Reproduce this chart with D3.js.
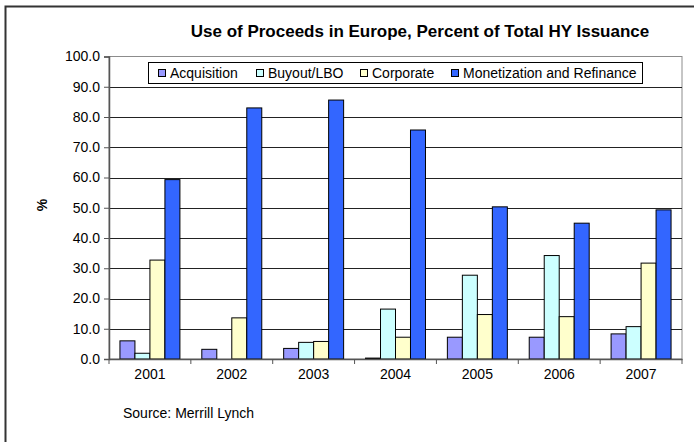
<!DOCTYPE html>
<html>
<head>
<meta charset="utf-8">
<script src="https://cdn.jsdelivr.net/npm/d3@7"></script>
<style>
  body { margin: 0; background: #fff; }
  svg { display: block; font-family: Arial, "Liberation Sans", sans-serif; }
</style>
</head>
<body>
<div id="sketchpad"></div>
<script>
let years = ["2001", "2002", "2003", "2004", "2005", "2006", "2007"]
let seriesNames = ["Acquisition", "Buyout/LBO", "Corporate", "Monetization and Refinance"]
let acquisition = [6.0, 3.2, 3.5, 0.3, 7.2, 7.2, 8.3]
let buyout = [1.9, 0, 5.5, 16.5, 27.7, 34.2, 10.7]
let corporate = [32.7, 13.6, 5.8, 7.2, 14.7, 14.0, 31.7]
let monetization = [59.3, 83.0, 85.6, 75.7, 50.3, 44.9, 49.3]
let yTicks = [0, 10, 20, 30, 40, 50, 60, 70, 80, 90, 100]

let seriesValues = [acquisition, buyout, corporate, monetization]
let colors = ["#9999ff", "#ccffff", "#ffffcc", "#3366ff"]

let svg = d3.select("#sketchpad")
  .append("svg")
  .attr("width", 694)
  .attr("height", 442)

// outer frame (runs off the right and bottom edge)
svg.append("rect")
  .attr("x", 5.5).attr("y", 6.5)
  .attr("width", 700).attr("height", 450)
  .attr("fill", "#fff")
  .attr("stroke", "#333")
  .attr("stroke-width", 2)

let plotLeft = 109, plotRight = 682, plotTop = 56.5, plotBottom = 359

let x0 = d3.scaleBand().domain(years).range([plotLeft, plotRight])
let x1 = d3.scaleBand().domain(seriesNames).range([0, x0.bandwidth()]).paddingOuter(0.73)
let y = d3.scaleLinear().domain([0, 100]).range([plotBottom, plotTop])

// plot area border
svg.append("rect")
  .attr("x", plotLeft).attr("y", plotTop)
  .attr("width", plotRight - plotLeft).attr("height", plotBottom - plotTop)
  .attr("fill", "#fff")
  .attr("stroke", "#8c8c8c")
  .attr("stroke-width", 1)

// gridlines
svg.append("g")
  .selectAll("line")
  .data(yTicks.slice(1, -1))
  .join("line")
  .attr("x1", plotLeft).attr("x2", plotRight)
  .attr("y1", d => Math.round(y(d)) + 0.5)
  .attr("y2", d => Math.round(y(d)) + 0.5)
  .attr("stroke", "#222")
  .attr("stroke-width", 1)

// bars
let rows = years.map((yr, i) => seriesNames.map((s, j) => ({ year: yr, name: s, value: seriesValues[j][i], color: colors[j] })))
svg.append("g")
  .selectAll("g")
  .data(rows)
  .join("g")
  .attr("transform", d => `translate(${x0(d[0].year)},0)`)
  .selectAll("rect")
  .data(d => d)
  .join("rect")
  .attr("x", d => x1(d.name))
  .attr("y", d => y(d.value))
  .attr("width", x1.bandwidth())
  .attr("height", d => plotBottom - y(d.value))
  .attr("fill", d => d.color)
  .attr("stroke", "#000")
  .attr("stroke-width", 1)

// y axis
let yAxis = svg.append("g")
  .attr("transform", `translate(${plotLeft},0)`)
  .call(d3.axisLeft(y).tickValues(yTicks).tickFormat(d3.format(".1f")).tickSize(5).tickPadding(4))
yAxis.select(".domain").attr("stroke", "#555").attr("stroke-width", 1.5)
yAxis.selectAll(".tick line").attr("stroke", "#555")
yAxis.selectAll("text").attr("font-size", 14).attr("fill", "#000").attr("font-family", "Arial, 'Liberation Sans', sans-serif")

// x axis
let xAxis = svg.append("g")
  .attr("transform", `translate(0,${plotBottom})`)
  .call(d3.axisBottom(x0).tickSize(0).tickPadding(10))
xAxis.select(".domain").attr("stroke", "#555").attr("stroke-width", 1.5)
xAxis.selectAll("text").attr("font-size", 14).attr("fill", "#000").attr("font-family", "Arial, 'Liberation Sans', sans-serif")

// category boundary ticks
svg.append("g")
  .selectAll("line")
  .data(years.concat(["end"]))
  .join("line")
  .attr("x1", (d, i) => i < years.length ? x0(d) : plotRight)
  .attr("x2", (d, i) => i < years.length ? x0(d) : plotRight)
  .attr("y1", plotBottom).attr("y2", plotBottom + 5)
  .attr("stroke", "#555")

// title
svg.append("text")
  .attr("x", 420).attr("y", 37)
  .attr("text-anchor", "middle")
  .attr("font-size", 17)
  .attr("font-weight", "bold")
  .text("Use of Proceeds in Europe, Percent of Total HY Issuance")

// y axis title
svg.append("text")
  .attr("transform", "translate(47,205) rotate(-90)")
  .attr("text-anchor", "middle")
  .attr("font-size", 14)
  .attr("font-weight", "bold")
  .text("%")

// legend
let legend = svg.append("g")
legend.append("rect")
  .attr("x", 148.5).attr("y", 62.5)
  .attr("width", 494).attr("height", 21)
  .attr("fill", "#fff")
  .attr("stroke", "#000")
let legendX = [158, 256, 360, 451]
let item = legend.selectAll("g.item")
  .data(seriesNames)
  .join("g")
  .attr("class", "item")
  .attr("transform", (d, i) => `translate(${legendX[i]},73)`)
item.append("rect")
  .attr("x", 0.5).attr("y", -3.5)
  .attr("width", 7).attr("height", 7)
  .attr("fill", (d, i) => colors[i])
  .attr("stroke", "#000")
item.append("text")
  .attr("x", 12).attr("y", 5)
  .attr("font-size", 14)
  .text(d => d)

// source
svg.append("text")
  .attr("x", 123).attr("y", 418)
  .attr("font-size", 14)
  .text("Source: Merrill Lynch")
</script>
</body>
</html>
